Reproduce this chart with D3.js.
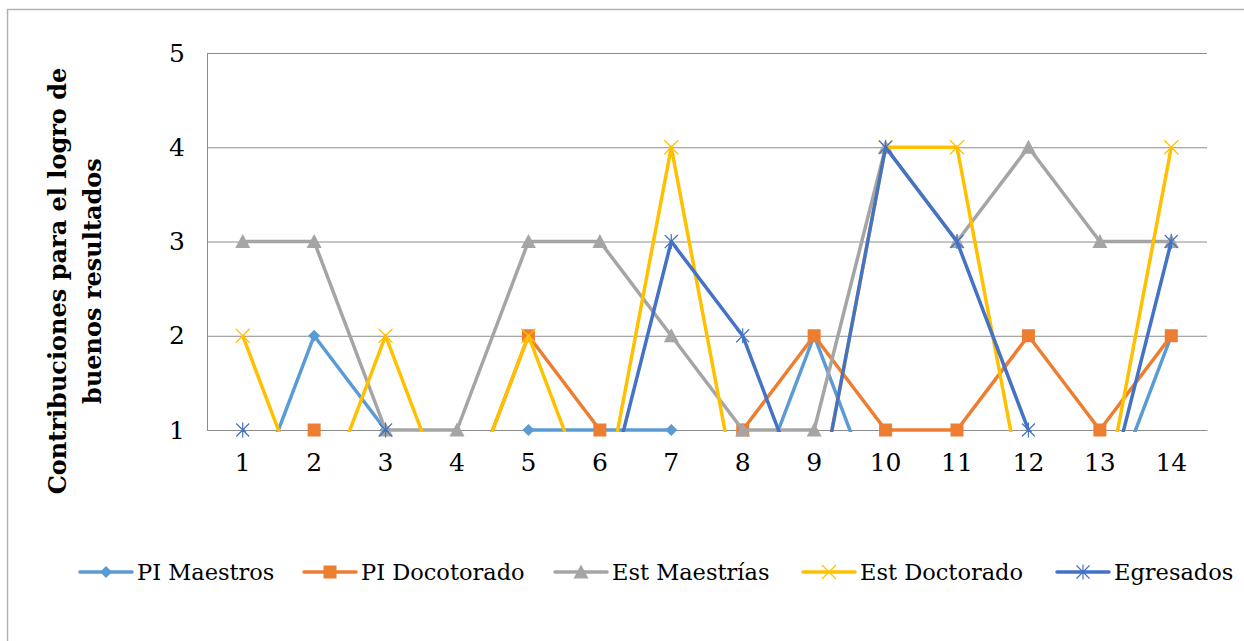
<!DOCTYPE html>
<html><head><meta charset="utf-8">
<script src="https://cdn.jsdelivr.net/npm/d3@7"></script>
<style>body{margin:0;background:#fff}svg{display:block}</style>
</head><body><svg id="c" width="1244" height="641"></svg>
<script>
const categories = [1,2,3,4,5,6,7,8,9,10,11,12,13,14];
const piMaestros   = [0,2,1,0,1,1,1,0,2,0,0,0,0,2];
const piDoctorado  = [0,1,0,0,2,1,0,1,2,1,1,2,1,2];
const estMaestrias = [3,3,1,1,3,3,2,1,1,4,3,4,3,3];
const estDoctorado = [2,0,2,0,2,0,4,0,0,4,4,0,0,4];
const egresados    = [1,0,1,0,0,0,3,2,0,4,3,1,0,3];
const seriesNames  = ["PI Maestros","PI Docotorado","Est Maestrías","Est Doctorado","Egresados"];
const yTicks = [1,2,3,4,5];
const yTitle = ["Contribuciones  para el logro de","buenos resultados"];

const seriesValues = [piMaestros, piDoctorado, estMaestrias, estDoctorado, egresados];
const colors = ["#5B9BD5","#ED7D31","#A5A5A5","#FFC000","#4472C4"];

const svg = d3.select("#c");
const font = "'DejaVu Serif', serif";
const L = 207, R = 1207, T = 53, B = 430;

svg.append("rect").attr("x",7.5).attr("y",9.5).attr("width",1260).attr("height",660)
  .attr("fill","#fff").attr("stroke","#b3b3b3").attr("stroke-width",1.5);

const x = d3.scaleBand().domain(categories).range([L,R]).padding(0);
const cx = d => x(d) + x.bandwidth()/2;
const y = d3.scaleLinear().domain([1,5]).range([B,T]);

// grid + y axis
const gy = svg.append("g").attr("transform",`translate(${L},0)`)
  .call(d3.axisLeft(y).tickValues(yTicks).tickSize(-(R-L)).tickPadding(22).tickFormat(d3.format("d")));
gy.select(".domain").attr("stroke","#8c8c8c");
gy.selectAll(".tick line").attr("stroke","#8c8c8c");
gy.selectAll(".tick text").attr("font-family",font).attr("font-size",25).attr("fill","#000");

const gx = svg.append("g").attr("transform",`translate(0,${B})`)
  .call(d3.axisBottom(x).tickSize(0).tickPadding(23));
gx.select(".domain").attr("stroke","#8c8c8c");
gx.selectAll(".tick text").attr("font-family",font).attr("font-size",25).attr("fill","#000");

// y title
const yt = svg.append("text").attr("transform","translate(57,281) rotate(-90)")
  .attr("text-anchor","middle").attr("font-family",font).attr("font-weight","bold")
  .attr("font-size",24).attr("fill","#000");
yt.append("tspan").attr("x",0).attr("y",9).text(yTitle[0]);
yt.append("tspan").attr("x",0).attr("y",44).text(yTitle[1]);

svg.append("clipPath").attr("id","clip").append("rect")
  .attr("x",L).attr("y",T-3).attr("width",R-L).attr("height",B-T+5);

// marker symbol types
const diamond = {draw(c,s){const r=6;c.moveTo(0,-r);c.lineTo(r,0);c.lineTo(0,r);c.lineTo(-r,0);c.closePath();}};
const square = {draw(c,s){const r=6.5;c.rect(-r,-r,2*r,2*r);}};
const triangle = {draw(c,s){const r=7.5;c.moveTo(0,-r);c.lineTo(r,r*0.85);c.lineTo(-r,r*0.85);c.closePath();}};
const cross = {draw(c,s){const r=7;c.moveTo(-r,-r);c.lineTo(r,r);c.moveTo(r,-r);c.lineTo(-r,r);}};
const star = {draw(c,s){const r=6.5;c.moveTo(-r,-r);c.lineTo(r,r);c.moveTo(r,-r);c.lineTo(-r,r);c.moveTo(0,-r-1);c.lineTo(0,r+1);}};
const shapes = [diamond,square,triangle,cross,star];
const filled = [true,true,true,false,false];

const line = d3.line().x((d,i)=>cx(categories[i])).y(d=>y(d));

function drawMarker(g, type, i, px, py){
  const p = g.append("path").attr("d", d3.symbol().type(shapes[i])()).attr("transform",`translate(${px},${py})`);
  if(filled[i]) p.attr("fill",colors[i]);
  else p.attr("fill","none").attr("stroke",colors[i]).attr("stroke-width",1.2);
}

seriesValues.forEach((vals,i)=>{
  const g = svg.append("g");
  g.append("path").datum(vals).attr("d",line).attr("fill","none").attr("stroke",colors[i])
    .attr("stroke-width",3.5).attr("stroke-linejoin","round").attr("clip-path","url(#clip)");
  vals.forEach((v,j)=>{ if(v>=1 && v<=5) drawMarker(g, shapes[i], i, cx(categories[j]), y(v)); });
});

// legend
const legX = [80,304,555,803,1057];
const legY = 572;
seriesNames.forEach((n,i)=>{
  const g = svg.append("g");
  g.append("line").attr("x1",legX[i]).attr("x2",legX[i]+52).attr("y1",legY).attr("y2",legY)
    .attr("stroke",colors[i]).attr("stroke-width",3.5).attr("stroke-linecap","round");
  drawMarker(g, shapes[i], i, legX[i]+26, legY);
  g.append("text").attr("x",legX[i]+57).attr("y",legY+8).attr("font-family",font)
    .attr("font-size",22.5).attr("fill","#000").text(n);
});
</script></body></html>
